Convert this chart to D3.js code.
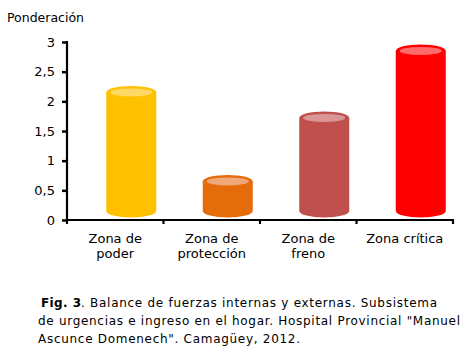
<!DOCTYPE html>
<html>
<head>
<meta charset="utf-8">
<script src="https://cdn.jsdelivr.net/npm/d3@7"></script>
<style>
  body { margin: 0; background: #fff; }
  svg { display: block; font-family: "DejaVu Sans", Verdana, sans-serif; }
</style>
</head>
<body>
<div id="chart"></div>
<script>
const categories = [["Zona de", "poder"], ["Zona de", "protección"], ["Zona de", "freno"], ["Zona crítica"]];
const values = [2.15, 0.65, 1.72, 2.85];
const colors = ["#FFC000", "#E46C0A", "#C0504D", "#FF0000"];
const topColors = ["#FFD966", "#F0A77A", "#D99694", "#FF6B6B"];
const yTicks = [0, 0.5, 1, 1.5, 2, 2.5, 3];

const W = 472, H = 359;
const X0 = 67, X1 = 453, Y0 = 220, Y1 = 42;

const svg = d3.select("#chart").append("svg").attr("width", W).attr("height", H);

const y = d3.scaleLinear().domain([0, 3]).range([Y0, Y1]);
const x = d3.scaleBand().domain(d3.range(categories.length)).range([X0, X1]);

// y title
svg.append("text").attr("x", 7).attr("y", 22).attr("font-size", 12.5).text("Ponderación");

// bars as cylinders
const shift = 16, rx = 25, ry = 6.5, floor = 9;
const g = svg.append("g");
values.forEach((v, i) => {
  const cx = x(i) + x.bandwidth() / 2 + shift;
  const yt = y(v), yb = y(0) - floor;
  g.append("path")
    .attr("d", `M${cx - rx},${yt} L${cx - rx},${yb} A${rx},${ry} 0 0 0 ${cx + rx},${yb} L${cx + rx},${yt} Z`)
    .attr("fill", colors[i]);
  g.append("ellipse").attr("cx", cx).attr("cy", yt).attr("rx", rx).attr("ry", ry).attr("fill", colors[i]);
  g.append("ellipse").attr("cx", cx).attr("cy", yt).attr("rx", rx - 4).attr("ry", ry - 2.5).attr("fill", topColors[i]);
});

// y axis
const yAxis = svg.append("g").attr("transform", `translate(${X0},0)`)
  .call(d3.axisLeft(y).tickValues(yTicks).tickSize(5).tickPadding(7)
    .tickFormat(d => String(d).replace(".", ",")));
yAxis.select(".domain").attr("stroke-width", 2.2).attr("d", `M0,${Y1 - 1}V${Y0 + 1}`);
yAxis.selectAll(".tick line").attr("stroke-width", 2.5);
yAxis.selectAll("text").attr("font-size", 13).attr("font-family", "DejaVu Sans").attr("fill", "#000");

// x axis
const xg = svg.append("g").attr("transform", `translate(0,${Y0})`);
xg.append("line").attr("x1", X0).attr("x2", X1 + 1).attr("stroke", "#000").attr("stroke-width", 2.2);
d3.range(categories.length + 1).forEach(i => {
  const xx = i < categories.length ? x(i) : X1;
  xg.append("line").attr("x1", xx).attr("x2", xx).attr("y1", 0).attr("y2", 4)
    .attr("stroke", "#000").attr("stroke-width", 2.2);
});
categories.forEach((lines, i) => {
  const t = xg.append("text").attr("text-anchor", "middle").attr("font-size", 13)
    .attr("x", x(i) + x.bandwidth() / 2);
  lines.forEach((ln, k) => t.append("tspan").attr("x", x(i) + x.bandwidth() / 2).attr("y", 23 + k * 15).text(ln));
});

// caption (stretched to the Verdana line widths of the original)
const cap = svg.append("g").attr("font-size", 12);
cap.append("text").attr("x", 41).attr("y", 307).attr("font-weight", "bold")
  .attr("textLength", 40).attr("lengthAdjust", "spacing").text("Fig. 3");
cap.append("text").attr("x", 81).attr("y", 307)
  .attr("textLength", 356).attr("lengthAdjust", "spacing")
  .text(". Balance de fuerzas internas y externas. Subsistema");
cap.append("text").attr("x", 38).attr("y", 325)
  .attr("textLength", 422).attr("lengthAdjust", "spacing")
  .text("de urgencias e ingreso en el hogar. Hospital Provincial \"Manuel");
cap.append("text").attr("x", 38).attr("y", 343)
  .attr("textLength", 262).attr("lengthAdjust", "spacing")
  .text("Ascunce Domenech\". Camagüey, 2012.");
</script>
</body>
</html>
